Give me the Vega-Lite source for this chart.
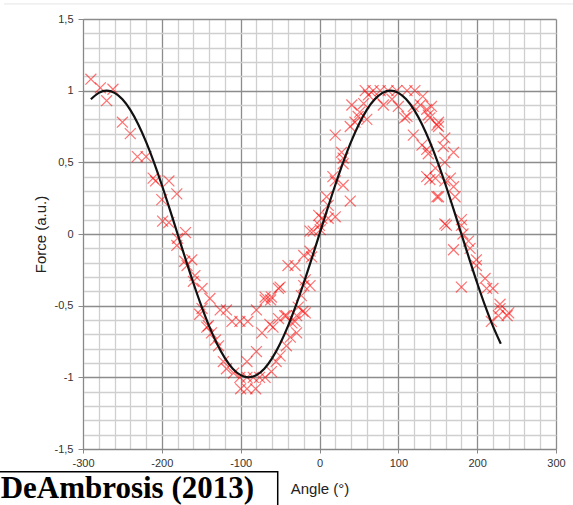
{
  "$schema": "https://vega.github.io/schema/vega-lite/v6.json",
  "width": 473,
  "height": 430,
  "autosize": {"type": "none"},
  "padding": {"left": 83, "top": 19, "right": 17, "bottom": 56},
  "background": "white",
  "config": {"view": {"stroke": null}, "font": "Liberation Sans"},
  "datasets": {
    "points": [
      {"angle": -290, "force": 1.08}, {"angle": -278, "force": 1.02}, {"angle": -270, "force": 0.93}, {"angle": -262, "force": 1.01},
      {"angle": -250, "force": 0.78}, {"angle": -240, "force": 0.70}, {"angle": -231, "force": 0.54}, {"angle": -220, "force": 0.54},
      {"angle": -211, "force": 0.39}, {"angle": -208, "force": 0.37}, {"angle": -191, "force": 0.37}, {"angle": -200, "force": 0.24},
      {"angle": -181, "force": 0.28}, {"angle": -199, "force": 0.09}, {"angle": -191, "force": 0.08}, {"angle": -180, "force": -0.03},
      {"angle": -170, "force": 0.01}, {"angle": -181, "force": -0.08}, {"angle": -171, "force": -0.19}, {"angle": -162, "force": -0.18},
      {"angle": -168, "force": -0.22}, {"angle": -158, "force": -0.29}, {"angle": -160, "force": -0.33}, {"angle": -149, "force": -0.38},
      {"angle": -139, "force": -0.45}, {"angle": -149, "force": -0.52}, {"angle": -152, "force": -0.56}, {"angle": -141, "force": -0.64},
      {"angle": -143, "force": -0.65}, {"angle": -137, "force": -0.69}, {"angle": -132, "force": -0.74}, {"angle": -128, "force": -0.78},
      {"angle": -126, "force": -0.53}, {"angle": -118, "force": -0.53}, {"angle": -122, "force": -0.89}, {"angle": -118, "force": -0.94},
      {"angle": -109, "force": -0.97}, {"angle": -101, "force": -1.0}, {"angle": -92, "force": -1.0}, {"angle": -84, "force": -1.0},
      {"angle": -76, "force": -1.0}, {"angle": -69, "force": -1.0}, {"angle": -100, "force": -1.08}, {"angle": -92, "force": -1.08},
      {"angle": -81, "force": -1.08}, {"angle": -111, "force": -0.61}, {"angle": -101, "force": -0.61}, {"angle": -91, "force": -0.61},
      {"angle": -92, "force": -0.89}, {"angle": -80, "force": -0.82}, {"angle": -73, "force": -0.69}, {"angle": -63, "force": -0.63},
      {"angle": -61, "force": -0.96}, {"angle": -55, "force": -0.89}, {"angle": -50, "force": -0.85}, {"angle": -42, "force": -0.78},
      {"angle": -37, "force": -0.72}, {"angle": -29, "force": -0.69}, {"angle": -35, "force": -0.62}, {"angle": -80, "force": -0.53},
      {"angle": -69, "force": -0.46}, {"angle": -62, "force": -0.46}, {"angle": -52, "force": -0.38}, {"angle": -42, "force": -0.57},
      {"angle": -29, "force": -0.57}, {"angle": -18, "force": -0.55}, {"angle": -59, "force": -0.65}, {"angle": -52, "force": -0.59},
      {"angle": -44, "force": -0.57}, {"angle": -31, "force": -0.61}, {"angle": -27, "force": -0.51}, {"angle": -21, "force": -0.54},
      {"angle": -23, "force": -0.43}, {"angle": -61, "force": -0.44}, {"angle": -69, "force": -0.44}, {"angle": -50, "force": -0.37},
      {"angle": -20, "force": -0.36}, {"angle": -12, "force": -0.36}, {"angle": -18, "force": -0.32}, {"angle": -40, "force": -0.22},
      {"angle": -31, "force": -0.22}, {"angle": -12, "force": -0.12}, {"angle": -20, "force": -0.15}, {"angle": -10, "force": -0.16},
      {"angle": -8, "force": 0.02}, {"angle": 1, "force": 0.03}, {"angle": -12, "force": 0.02}, {"angle": 0, "force": 0.06},
      {"angle": -1, "force": 0.13}, {"angle": 3, "force": 0.11}, {"angle": 11, "force": 0.11}, {"angle": 20, "force": 0.12},
      {"angle": 9, "force": 0.26}, {"angle": 11, "force": 0.20}, {"angle": 20, "force": 0.37}, {"angle": 30, "force": 0.34},
      {"angle": 39, "force": 0.23}, {"angle": 17, "force": 0.40}, {"angle": 20, "force": 0.69}, {"angle": 28, "force": 0.57},
      {"angle": 30, "force": 0.53}, {"angle": 30, "force": 0.49}, {"angle": 39, "force": 0.75}, {"angle": 45, "force": 0.78},
      {"angle": 49, "force": 0.82}, {"angle": 41, "force": 0.90}, {"angle": 51, "force": 0.85}, {"angle": 60, "force": 0.80},
      {"angle": 56, "force": 0.91}, {"angle": 62, "force": 0.97}, {"angle": 58, "force": 1.0}, {"angle": 68, "force": 1.0},
      {"angle": 77, "force": 1.0}, {"angle": 87, "force": 1.0}, {"angle": 98, "force": 1.0}, {"angle": 111, "force": 1.0},
      {"angle": 121, "force": 1.0}, {"angle": 73, "force": 0.95}, {"angle": 81, "force": 0.90}, {"angle": 92, "force": 0.94},
      {"angle": 100, "force": 0.89}, {"angle": 111, "force": 0.82}, {"angle": 108, "force": 0.81}, {"angle": 119, "force": 0.89},
      {"angle": 128, "force": 0.90}, {"angle": 131, "force": 0.96}, {"angle": 136, "force": 0.87}, {"angle": 142, "force": 0.89},
      {"angle": 140, "force": 0.81}, {"angle": 138, "force": 0.83}, {"angle": 149, "force": 0.76}, {"angle": 151, "force": 0.78},
      {"angle": 151, "force": 0.75}, {"angle": 119, "force": 0.69}, {"angle": 130, "force": 0.62}, {"angle": 136, "force": 0.59},
      {"angle": 138, "force": 0.56}, {"angle": 157, "force": 0.61}, {"angle": 159, "force": 0.67}, {"angle": 170, "force": 0.57},
      {"angle": 159, "force": 0.50}, {"angle": 147, "force": 0.46}, {"angle": 140, "force": 0.38}, {"angle": 147, "force": 0.39},
      {"angle": 136, "force": 0.40}, {"angle": 166, "force": 0.39}, {"angle": 159, "force": 0.37}, {"angle": 170, "force": 0.33},
      {"angle": 149, "force": 0.26}, {"angle": 151, "force": 0.26}, {"angle": 172, "force": 0.26}, {"angle": 161, "force": 0.06},
      {"angle": 159, "force": 0.07}, {"angle": 180, "force": 0.10}, {"angle": 180, "force": 0.06}, {"angle": 182, "force": 0.0},
      {"angle": 170, "force": -0.11}, {"angle": 189, "force": -0.05}, {"angle": 191, "force": -0.10}, {"angle": 199, "force": -0.18},
      {"angle": 199, "force": -0.22}, {"angle": 210, "force": -0.31}, {"angle": 212, "force": -0.38}, {"angle": 220, "force": -0.38},
      {"angle": 180, "force": -0.37}, {"angle": 229, "force": -0.49}, {"angle": 229, "force": -0.52}, {"angle": 227, "force": -0.57},
      {"angle": 238, "force": -0.57}, {"angle": 218, "force": -0.61}, {"angle": 240, "force": -0.55}
    ],
    "curve": [
      {"angle": -290, "force": 0.9397}, {"angle": -280, "force": 0.9848}, {"angle": -270, "force": 1}, {"angle": -260, "force": 0.9848},
      {"angle": -250, "force": 0.9397}, {"angle": -240, "force": 0.8660}, {"angle": -230, "force": 0.7660}, {"angle": -220, "force": 0.6428},
      {"angle": -210, "force": 0.5}, {"angle": -200, "force": 0.3420}, {"angle": -190, "force": 0.1736}, {"angle": -180, "force": 0},
      {"angle": -170, "force": -0.1736}, {"angle": -160, "force": -0.3420}, {"angle": -150, "force": -0.5}, {"angle": -140, "force": -0.6428},
      {"angle": -130, "force": -0.7660}, {"angle": -120, "force": -0.8660}, {"angle": -110, "force": -0.9397}, {"angle": -100, "force": -0.9848},
      {"angle": -90, "force": -1}, {"angle": -80, "force": -0.9848}, {"angle": -70, "force": -0.9397}, {"angle": -60, "force": -0.8660},
      {"angle": -50, "force": -0.7660}, {"angle": -40, "force": -0.6428}, {"angle": -30, "force": -0.5}, {"angle": -20, "force": -0.3420},
      {"angle": -10, "force": -0.1736}, {"angle": 0, "force": 0}, {"angle": 10, "force": 0.1736}, {"angle": 20, "force": 0.3420},
      {"angle": 30, "force": 0.5}, {"angle": 40, "force": 0.6428}, {"angle": 50, "force": 0.7660}, {"angle": 60, "force": 0.8660},
      {"angle": 70, "force": 0.9397}, {"angle": 80, "force": 0.9848}, {"angle": 90, "force": 1}, {"angle": 100, "force": 0.9848},
      {"angle": 110, "force": 0.9397}, {"angle": 120, "force": 0.8660}, {"angle": 130, "force": 0.7660}, {"angle": 140, "force": 0.6428},
      {"angle": 150, "force": 0.5}, {"angle": 160, "force": 0.3420}, {"angle": 170, "force": 0.1736}, {"angle": 180, "force": 0},
      {"angle": 190, "force": -0.1736}, {"angle": 200, "force": -0.3420}, {"angle": 210, "force": -0.5}, {"angle": 220, "force": -0.6428},
      {"angle": 230, "force": -0.7660}
    ]
  },
  "layer": [
    {
      "data": {"name": "points"},
      "mark": {"type": "point", "shape": "M-1,-1L1,1M1,-1L-1,1", "filled": false, "stroke": "#ff0000", "strokeWidth": 1.2, "opacity": 0.55, "size": 120, "clip": false},
      "encoding": {
        "x": {
          "field": "angle", "type": "quantitative",
          "scale": {"domain": [-300, 300], "nice": false, "zero": false},
          "axis": {
            "title": "Angle (°)",
            "values": [-300,-280,-260,-240,-220,-200,-180,-160,-140,-120,-100,-80,-60,-40,-20,0,20,40,60,80,100,120,140,160,180,200,220,240,260,280,300],
            "tickCount": 100,
            "labelExpr": "datum.value % 100 === 0 ? toString(datum.value) : ''",
            "labelOverlap": false, "labelFlush": false, "labelBound": false,
            "labelFont": "Liberation Sans", "labelFontSize": 11, "labelColor": "#333", "labelPadding": 4,
            "tickSize": 4, "tickColor": "#888",
            "tickOpacity": {"condition": {"test": "datum.value % 100 === 0", "value": 1}, "value": 0},
            "grid": true,
            "gridColor": {"condition": {"test": "datum.value % 100 === 0", "value": "#8c8c8c"}, "value": "#cfcfcf"},
            "gridWidth": 1.3,
            "domainColor": "#888",
            "titleFont": "Liberation Sans", "titleFontSize": 15, "titleFontWeight": "normal", "titleColor": "#222", "titlePadding": 13
          }
        },
        "y": {
          "field": "force", "type": "quantitative",
          "scale": {"domain": [-1.5, 1.5], "nice": false, "zero": false},
          "axis": {
            "title": "Force (a.u.)",
            "values": [-1.5,-1.4,-1.3,-1.2,-1.1,-1.0,-0.9,-0.8,-0.7,-0.6,-0.5,-0.4,-0.3,-0.2,-0.1,0,0.1,0.2,0.3,0.4,0.5,0.6,0.7,0.8,0.9,1.0,1.1,1.2,1.3,1.4,1.5],
            "tickCount": 100,
            "labelExpr": "abs(datum.value*2 - round(datum.value*2)) < 0.001 ? replace(toString(datum.value), '.', ',') : ''",
            "labelOverlap": false, "labelFlush": false, "labelBound": false,
            "labelFont": "Liberation Sans", "labelFontSize": 11, "labelColor": "#333", "labelPadding": 5,
            "tickSize": 5, "tickColor": "#888",
            "tickOpacity": {"condition": {"test": "abs(datum.value*2 - round(datum.value*2)) < 0.001", "value": 1}, "value": 0},
            "grid": true,
            "gridColor": {"condition": {"test": "abs(datum.value*2 - round(datum.value*2)) < 0.001", "value": "#8c8c8c"}, "value": "#cfcfcf"},
            "gridWidth": 1.3,
            "domainColor": "#888",
            "titleFont": "Liberation Sans", "titleFontSize": 15, "titleFontWeight": "normal", "titleColor": "#222", "titlePadding": 6
          }
        }
      }
    },
    {
      "data": {"name": "curve"},
      "mark": {"type": "line", "color": "#111", "strokeWidth": 2.2, "interpolate": "monotone"},
      "encoding": {
        "x": {"field": "angle", "type": "quantitative"},
        "y": {"field": "force", "type": "quantitative"}
      }
    },
    {
      "data": {"values": [{}]},
      "mark": {"type": "rule", "color": "#e4e4e4", "strokeWidth": 1, "clip": false},
      "encoding": {
        "x": {"datum": -400, "type": "quantitative"},
        "x2": {"datum": 400},
        "y": {"datum": 1.605, "type": "quantitative"}
      }
    },
    {
      "data": {"values": [{}]},
      "mark": {"type": "rect", "fill": "white", "stroke": "black", "strokeWidth": 1.5, "clip": false},
      "encoding": {
        "x": {"datum": -420, "type": "quantitative"},
        "x2": {"datum": -53},
        "y": {"datum": -1.659, "type": "quantitative"},
        "y2": {"datum": -2.0}
      }
    },
    {
      "data": {"values": [{"label": "DeAmbrosis (2013)"}]},
      "mark": {"type": "text", "font": "Liberation Serif", "fontWeight": "bold", "fontSize": 31, "align": "right", "baseline": "alphabetic", "color": "black", "clip": false},
      "encoding": {
        "x": {"datum": -83, "type": "quantitative"},
        "y": {"datum": -1.843, "type": "quantitative"},
        "text": {"field": "label"}
      }
    }
  ]
}
